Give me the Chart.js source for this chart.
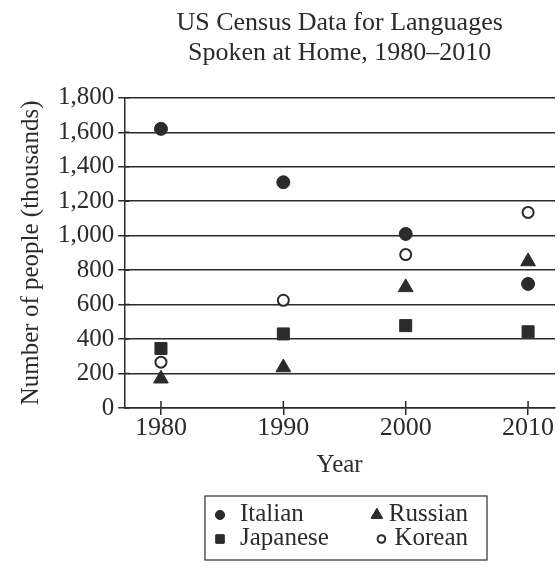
<!DOCTYPE html>
<html>
<head>
<meta charset="utf-8">
<script src="https://cdn.jsdelivr.net/npm/chart.js@4.4.0/dist/chart.umd.min.js"></script>
<style>
  html, body { margin: 0; padding: 0; background: #fff; overflow: hidden; }
  #wrap { width: 558px; height: 564px; }
</style>
</head>
<body>
<div id="wrap"><canvas id="census"></canvas></div>
<script>
// data (thousands of people)
var years = [1980, 1990, 2000, 2010];
var italian = [1620, 1310, 1010, 720];
var russian = [170, 235, 700, 850];
var japanese = [345, 430, 478, 442];
var korean = [266, 625, 890, 1135];
var yTicks = [0, 200, 400, 600, 800, 1000, 1200, 1400, 1600, 1800];

var ink = '#2b2b2b';
var serif = "'Liberation Serif', 'DejaVu Serif', serif";

function pts(vals) {
  return years.map(function (y, i) { return { x: y, y: vals[i] }; });
}

// short tick marks on the inner side of both axes
var innerTicks = {
  id: 'innerTicks',
  afterDatasetsDraw: function (chart) {
    var ctx = chart.ctx, xs = chart.scales.x, ys = chart.scales.y;
    ctx.save();
    ctx.strokeStyle = ink;
    ctx.lineWidth = 1.5;
    ctx.beginPath();
    years.forEach(function (v) {
      var px = xs.getPixelForValue(v);
      ctx.moveTo(px, ys.bottom);
      ctx.lineTo(px, ys.bottom - 7);
    });
    yTicks.forEach(function (v) {
      var py = ys.getPixelForValue(v);
      ctx.moveTo(xs.left, py);
      ctx.lineTo(xs.left + 5, py);
    });
    ctx.stroke();
    ctx.restore();
  }
};

// boxed 2x2 legend under the axis
var boxLegend = {
  id: 'boxLegend',
  afterDraw: function (chart) {
    var ctx = chart.ctx;
    var w = 282, h = 64;
    var left = 205;
    var top = 496;
    ctx.save();
    ctx.strokeStyle = ink;
    ctx.lineWidth = 1.2;
    ctx.strokeRect(left, top, w, h);
    ctx.font = '25px ' + serif;
    ctx.textBaseline = 'middle';
    chart.data.datasets.forEach(function (ds, i) {
      var col = i % 2, row = Math.floor(i / 2);
      var my = top + 18 + row * 24;
      var tx, mx;
      ctx.fillStyle = ink;
      if (col === 0) {
        tx = left + 35;
        ctx.textAlign = 'left';
        ctx.fillText(ds.label, tx, my);
        mx = left + 15;
      } else {
        tx = left + 263;
        ctx.textAlign = 'right';
        ctx.fillText(ds.label, tx, my);
        mx = tx - ctx.measureText(ds.label).width - ds.legendGap;
      }
      Chart.helpers.drawPoint(ctx, {
        pointStyle: ds.pointStyle,
        radius: ds.legendRadius,
        borderWidth: ds.borderWidth
      }, mx, my + 1);
      ctx.fillStyle = ds.backgroundColor;
      ctx.strokeStyle = ds.borderColor;
      ctx.lineWidth = ds.borderWidth;
      ctx.fill();
      ctx.stroke();
    });
    ctx.restore();
  }
};

var chart = new Chart(document.getElementById('census'), {
  type: 'scatter',
  data: {
    datasets: [{
      label: 'Italian',
      data: pts(italian),
      pointStyle: 'circle',
      pointRadius: 6.5,
      legendRadius: 4.3,
      legendGap: 12,
      backgroundColor: ink,
      borderColor: ink,
      borderWidth: 1
    }, {
      label: 'Russian',
      data: pts(russian),
      pointStyle: 'triangle',
      pointRadius: 8.5,
      legendRadius: 6.5,
      legendGap: 12,
      backgroundColor: ink,
      borderColor: ink,
      borderWidth: 1
    }, {
      label: 'Japanese',
      data: pts(japanese),
      pointStyle: 'rect',
      pointRadius: 8.5,
      legendRadius: 5.8,
      legendGap: 12,
      backgroundColor: ink,
      borderColor: ink,
      borderWidth: 1
    }, {
      label: 'Korean',
      data: pts(korean),
      pointStyle: 'circle',
      pointRadius: 5.5,
      legendRadius: 3.8,
      legendGap: 13,
      backgroundColor: '#fff',
      borderColor: ink,
      borderWidth: 2
    }]
  },
  options: {
    responsive: true,
    maintainAspectRatio: false,
    animation: false,
    layout: { autoPadding: false, padding: { left: 0, right: 3, top: 0, bottom: 86 } },
    plugins: {
      legend: { display: false },
      tooltip: { enabled: false },
      title: {
        display: true,
        fullSize: false,
        text: ['US Census Data for Languages', 'Spoken at Home, 1980\u20132010'],
        color: ink,
        font: { family: serif, size: 26, weight: 'normal', lineHeight: 1.15 },
        padding: { top: 8, bottom: 30 }
      }
    },
    scales: {
      x: {
        type: 'linear',
        min: 1977,
        max: 2012.2,
        afterBuildTicks: function (scale) {
          scale.ticks = years.map(function (v) { return { value: v }; });
        },
        grid: { drawOnChartArea: false, tickLength: 7, color: ink, lineWidth: 1.5 },
        border: { display: true, color: ink, width: 1.5 },
        ticks: {
          color: ink,
          font: { family: serif, size: 26, lineHeight: 1 },
          padding: 0,
          callback: function (v) { return String(v); }
        },
        title: {
          display: true,
          text: 'Year',
          color: ink,
          font: { family: serif, size: 25, lineHeight: 1 },
          padding: { top: 12, bottom: 0 }
        }
      },
      y: {
        min: 0,
        max: 1800,
        afterBuildTicks: function (scale) {
          scale.ticks = yTicks.map(function (v) { return { value: v }; });
        },
        grid: { color: ink, lineWidth: 1.5, tickLength: 6 },
        border: { display: true, color: ink, width: 1.5 },
        ticks: {
          color: ink,
          font: { family: serif, size: 25 },
          padding: 4,
          callback: function (v) { return v.toLocaleString('en-US'); }
        },
        title: {
          display: true,
          text: 'Number of people (thousands)',
          color: ink,
          font: { family: serif, size: 25, lineHeight: 1.2 },
          padding: { top: 16, bottom: 8 }
        }
      }
    }
  },
  plugins: [innerTicks, boxLegend]
});
</script>
</body>
</html>
